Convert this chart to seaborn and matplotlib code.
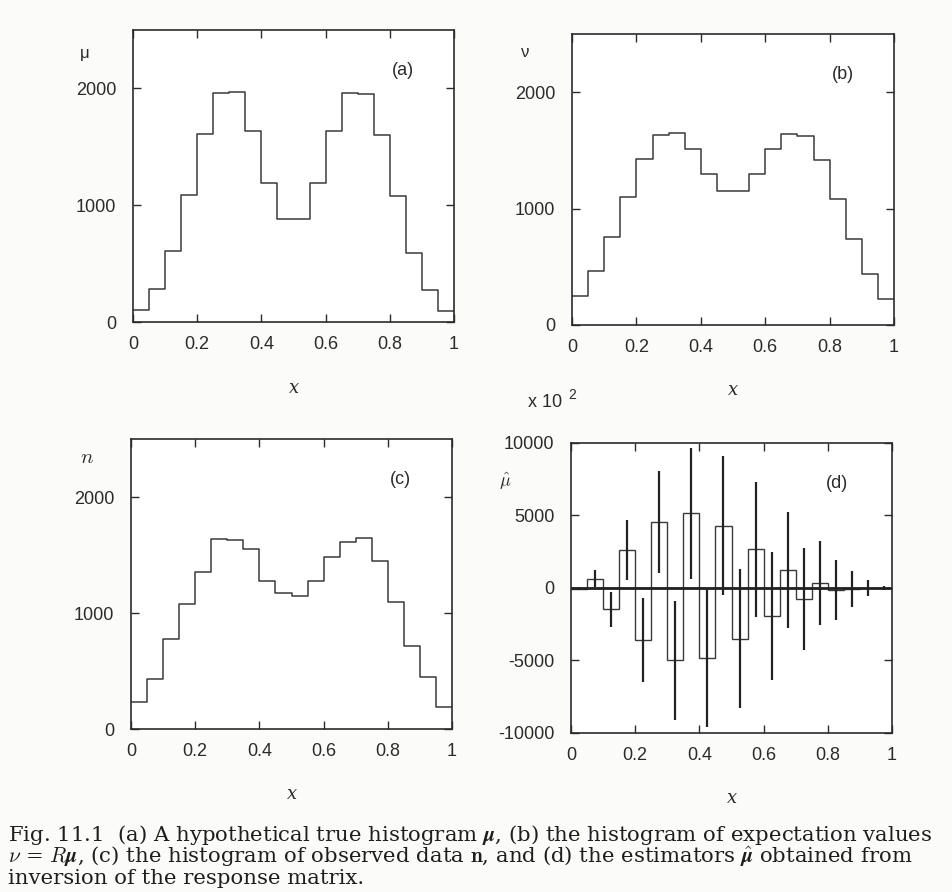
import numpy as np
import pandas as pd
import seaborn as sns
import matplotlib.pyplot as plt

# bin edges: 20 bins on [0, 1]
edges = np.linspace(0, 1, 21)
centers = (edges[:-1] + edges[1:]) / 2

# (a) true histogram mu
mu = [105, 285, 605, 1090, 1610, 1960, 1965, 1635, 1190, 880,
      880, 1190, 1635, 1960, 1950, 1605, 1080, 595, 275, 95]
# (b) expectation values nu = R mu
nu = [245, 460, 755, 1100, 1425, 1630, 1650, 1510, 1300, 1150,
      1150, 1300, 1510, 1640, 1625, 1415, 1085, 740, 440, 225]
# (c) observed data n
n_obs = [230, 435, 775, 1080, 1350, 1640, 1630, 1555, 1280, 1170,
         1145, 1275, 1485, 1615, 1645, 1445, 1095, 715, 450, 190]
# (d) estimators mu_hat and their errors
mu_hat = [-50, 650, -1470, 2630, -3590, 4560, -5000, 5140, -4860, 4290,
          -3500, 2670, -1940, 1240, -780, 320, -140, -60, 0, 0]
mu_err = [120, 600, 1200, 2070, 2900, 3520, 4110, 4490, 4720, 4790,
          4790, 4660, 4390, 4030, 3510, 2890, 2070, 1250, 520, 150]

ink = "#2b2b2b"
sns.set_theme(style="ticks")
plt.rcParams.update({
    "font.family": ["Liberation Sans", "DejaVu Sans"],
    "mathtext.fontset": "cm",
    "axes.unicode_minus": False,
    "xtick.direction": "in", "ytick.direction": "in",
    "xtick.top": True, "ytick.right": True,
    "xtick.major.size": 6, "ytick.major.size": 6,
    "xtick.major.width": 1.0, "ytick.major.width": 1.0,
    "xtick.color": ink, "ytick.color": ink,
    "xtick.labelsize": 13, "ytick.labelsize": 13,
    "axes.edgecolor": ink, "axes.linewidth": 1.2,
    "text.color": ink,
})

fig = plt.figure(figsize=(9.53, 8.92), dpi=100, facecolor="#fbfbf9")
pos = {
    "a": [0.1396, 0.639, 0.3368, 0.3274],
    "b": [0.6002, 0.6357, 0.338, 0.3262],
    "c": [0.1375, 0.1827, 0.3368, 0.3251],
    "d": [0.5992, 0.1783, 0.3368, 0.3251],
}

def style(ax, ylim, yticks):
    ax.set_xlim(0, 1)
    ax.set_ylim(*ylim)
    ax.set_xticks([0, 0.2, 0.4, 0.6, 0.8, 1])
    ax.set_xticklabels(["0", "0.2", "0.4", "0.6", "0.8", "1"])
    ax.set_yticks(yticks)
    ax.tick_params(axis="y", pad=12)
    ax.tick_params(axis="x", pad=10)
    ax.set_xlabel("")
    ax.set_ylabel("")
    for s in ax.spines.values():
        s.set_visible(True)
    ax.text(0.5, -0.225, "x", transform=ax.transAxes, ha="center", va="center",
            fontsize=13, family="DejaVu Serif", style="italic")

panels = [("a", mu, "μ", (-0.15, 0.92)), ("b", nu, "ν", (-0.146, 0.935)),
          ("c", n_obs, "$n$", (-0.137, 0.938))]
for key, vals, lab, lpos in panels:
    ax = fig.add_axes(pos[key])
    df = pd.DataFrame({"x": centers, "w": vals})
    sns.histplot(data=df, x="x", weights="w", bins=20, binrange=(0, 1),
                 element="step", fill=False, color="#3a3a3a", linewidth=1.1,
                 ax=ax)
    style(ax, (0, 2500), [0, 1000, 2000])
    ax.text(lpos[0], lpos[1], lab, transform=ax.transAxes, ha="center",
            va="center", fontsize=15 if key == "c" else 12)
    ax.text(0.84, 0.86, f"({key})", transform=ax.transAxes, ha="center",
            va="center", fontsize=13)

# panel (d)
ax = fig.add_axes(pos["d"])
df = pd.DataFrame({"x": centers, "w": mu_hat})
sns.histplot(data=df, x="x", weights="w", bins=20, binrange=(0, 1),
             element="bars", fill=False, color="#3a3a3a", linewidth=1.0,
             ax=ax)
ax.errorbar(centers, mu_hat, yerr=mu_err, fmt="none", ecolor="#222222",
            elinewidth=1.6, capsize=0)
ax.axhline(0, color="#222222", linewidth=2.0)
style(ax, (-10000, 10000), [-10000, -5000, 0, 5000, 10000])
ax.text(0.83, 0.86, "(d)", transform=ax.transAxes, ha="center", va="center",
        fontsize=13)
ax.text(-0.206, 0.866, r"$\hat{\mu}$", transform=ax.transAxes, ha="center",
        va="center", fontsize=13)
ax.text(-0.08, 1.141, "x 10", transform=ax.transAxes, ha="center",
        va="center", fontsize=13)
ax.text(0.005, 1.165, "2", transform=ax.transAxes, ha="center",
        va="center", fontsize=10)

# caption
cap = [
    r"Fig. 11.1  (a) A hypothetical true histogram $\boldsymbol{\mu}$, (b) the histogram of expectation values",
    r"$\nu$ = $R\boldsymbol{\mu}$, (c) the histogram of observed data $\mathbf{n}$, and (d) the estimators $\hat{\boldsymbol{\mu}}$ obtained from",
    r"inversion of the response matrix.",
]
for i, line in enumerate(cap):
    fig.text(8 / 953, 1 - (835 + 22 * i) / 892, line, ha="left", va="center",
             fontsize=15.3, family="DejaVu Serif", color="#1e1e1e")

plt.savefig("out.png", dpi=100, facecolor=fig.get_facecolor())
